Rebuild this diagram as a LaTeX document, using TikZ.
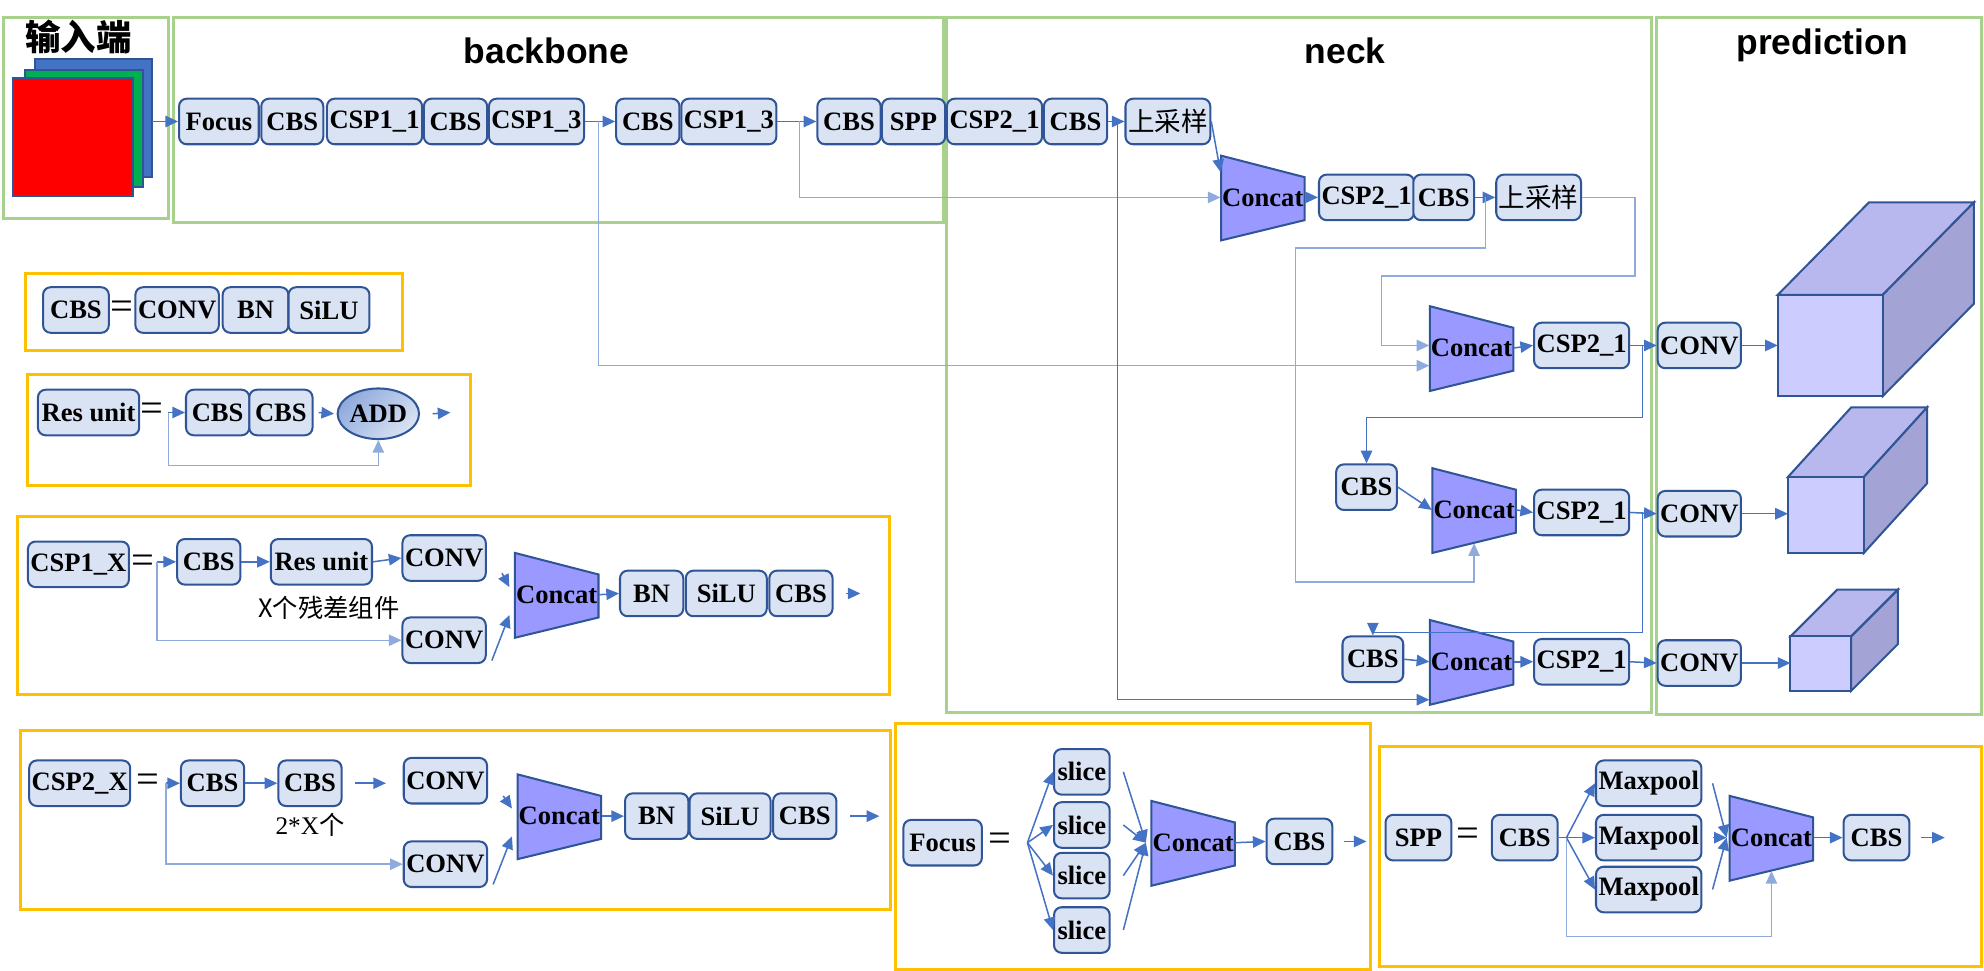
\documentclass[tikz,border=0pt]{standalone}
\usepackage{fontspec}
\setmainfont{Liberation Serif}
\setsansfont{Liberation Sans}
\newfontfamily\cjk{Noto Sans CJK SC}
\usepackage{xcolor}
\usepackage{tikz}
\usetikzlibrary{arrows.meta,shapes.geometric}

\definecolor{bdr}{HTML}{2F5597}
\definecolor{blkfill}{HTML}{DAE3F3}
\definecolor{arrc}{HTML}{4472C4}
\definecolor{skipc}{HTML}{8FAADC}
\definecolor{catfill}{HTML}{9999FF}
\definecolor{grn}{HTML}{A9D18E}
\definecolor{org}{HTML}{FFC000}
\definecolor{cubef}{HTML}{CCCCFF}
\definecolor{cubes}{HTML}{A3A3D6}
\definecolor{cubet}{HTML}{B8B8EE}

% trapezoid concat block: name, x, y
\newcommand\catblk[3]{%
  \draw[cat] (#2-33,#3-33) -- (#2+33,#3-16) -- (#2+33,#3+18) -- (#2-33,#3+34) -- cycle;
  \node[catlbl] (#1) at (#2,#3) {Concat};}
% cuboid: x1, y1, x2, y2, dx, dy
\newcommand\cubeblk[6]{%
  \draw[cube, fill=cubet] (#1,#2) -- (#1+#5,#2-#6) -- (#3+#5,#2-#6) -- (#3,#2) -- cycle;
  \draw[cube, fill=cubes] (#3,#2) -- (#3+#5,#2-#6) -- (#3+#5,#4-#6) -- (#3,#4) -- cycle;
  \draw[cube, fill=cubef] (#1,#2) rectangle (#3,#4);}

\begin{document}
\begin{tikzpicture}[x=0.5pt,y=-0.5pt]
\tikzstyle{blk}=[draw=bdr, fill=blkfill, rounded corners=3pt, line width=0.8pt,
	minimum height=18pt, inner sep=1pt, font=\bfseries\fontsize{10.5}{12}\selectfont]
\tikzstyle{w}=[minimum width={#1*0.5pt}]
\tikzstyle{cat}=[draw=bdr, fill=catfill, line width=0.8pt]
\tikzstyle{catlbl}=[minimum width=33pt, minimum height=26pt, inner sep=0pt,
	font=\bfseries\fontsize{10.5}{12}\selectfont]
\tikzstyle{cube}=[draw=bdr, line width=0.8pt]
\tikzstyle{ln}=[draw=arrc, line width=0.6pt]
\tikzstyle{arr}=[ln, -{Triangle[length=5pt,width=4.5pt]}]
\tikzstyle{skip}=[draw=skipc]
\tikzstyle{frameg}=[draw=grn, line width=1.2pt]
\tikzstyle{frameo}=[draw=org, line width=1.2pt]
\tikzstyle{title}=[font=\sffamily\bfseries\fontsize{14}{16}\selectfont]
\tikzstyle{eq}=[font=\fontsize{16}{16}\selectfont, inner sep=0pt]

\useasboundingbox (0,0) rectangle (1568,767);

% frames
\draw[frameg] (3,14) rectangle (133,173);
\draw[frameg] (137,14) rectangle (746,176);
\draw[frameg] (748,14) rectangle (1305,563);
\draw[frameg] (1309,14) rectangle (1566,565);
\draw[frameo] (20,216) rectangle (318,277);
\draw[frameo] (22,296) rectangle (372,384);
\draw[frameo] (14,408) rectangle (703,549);
\draw[frameo] (16,577) rectangle (704,719);
\draw[frameo] (708,572) rectangle (1083,766);
\draw[frameo] (1090,590) rectangle (1566,764);

\node[title, font=\cjk\bfseries\fontsize{14}{16}\selectfont] (tin) at (62,29) {输入端};
\node[title] (tbb) at (432,40) {backbone};
\node[title] (tnk) at (1063,40) {neck};
\node[title] (tpr) at (1440,36) {prediction};

% input
\draw[cube, fill=arrc] (28,47) rectangle (120,140);
\draw[cube, fill={rgb,255:red,0;green,176;blue,80}] (20,55) rectangle (113,148);
\draw[cube, fill=red] (10,62) rectangle (105,155);
\coordinate (img) at (120,96);

% backbone
\node[blk, w=63] (f0) at (173,96) {Focus};
\node[blk, w=49] (c1) at (231,96) {CBS};
\node[blk, w=74] (p1) at (296,96) {CSP1\_1};
\node[blk, w=50] (c2) at (360,96) {CBS};
\node[blk, w=74] (p2) at (424,96) {CSP1\_3};
\node[blk, w=50] (c3) at (512,96) {CBS};
\node[blk, w=75] (p3) at (576,96) {CSP1\_3};
\node[blk, w=50] (c4) at (671,96) {CBS};
\node[blk, w=50] (spp) at (722,96) {SPP};

% neck
\node[blk, w=74] (q1) at (786,96) {CSP2\_1};
\node[blk, w=50] (c5) at (850,96) {CBS};
\node[blk, w=67, font=\cjk\fontsize{10.5}{12}\selectfont] (up1) at (923,96) {上采样};
\catblk{k1}{998}{156}
\node[blk, w=71] (q2) at (1080,156) {CSP2\_1};
\node[blk, w=48] (c6) at (1141,156) {CBS};
\node[blk, w=67, font=\cjk\fontsize{10.5}{12}\selectfont] (up2) at (1216,156) {上采样};
\catblk{k2}{1163}{275}
\node[blk, w=73] (r1) at (1250,273) {CSP2\_1};
\node[blk, w=48] (s1) at (1080,385) {CBS};
\catblk{k3}{1165}{403}
\node[blk, w=73] (r2) at (1250,405) {CSP2\_1};
\node[blk, w=48] (s2) at (1085,521) {CBS};
\catblk{k4}{1163}{523}
\node[blk, w=73] (r3) at (1250,523) {CSP2\_1};

% prediction
\node[blk, w=62] (v1) at (1343,273) {CONV};
\node[blk, w=62] (v2) at (1343,406) {CONV};
\node[blk, w=62] (v3) at (1343,524) {CONV};
\cubeblk{1405}{233}{1488}{313}{72}{73}
\cubeblk{1413}{377}{1473}{437}{50}{55}
\cubeblk{1415}{503}{1463}{546}{37}{37}
\coordinate (cb1) at (1405,273);
\coordinate (cb2) at (1413,406);
\coordinate (cb3) at (1415,524);

% main connectors
\coordinate (b1) at (473,96);
\coordinate (b2) at (632,96);
\coordinate (b3) at (883,96);
\coordinate (b4) at (1174,156);
\coordinate (b5) at (1298,273);
\coordinate (b6) at (1298,405);
\draw[arr] (img) -- (f0.west);
\draw[arr] (p2.east) -- (c3.west);
\draw[arr] (p3.east) -- (c4.west);
\draw[arr] (c5.east) -- (up1.west);
\draw[arr, skip] (b1) |- ([yshift=-7pt]k2.west);
\draw[arr, skip] (b2) |- (k1.west);
\draw[arr] (b3) |- ([yshift=-15pt]k4.west);
\draw[arr] (up1.east) -- ([yshift=10pt]k1.west);
\draw[arr] (k1.east) -- (q2.west);
\draw[arr] (c6.east) -- (up2.west);
\draw[arr, skip] (b4) -- (1174,196) -- (1024,196) -- (1024,460) -- (1165,460) -- (k3.south);
\draw[arr, skip] (up2.east) -| (1292,218) -| (1092,273) -- ([yshift=1pt]k2.west);
\draw[arr] (k2.east) -- (r1.west);
\draw[arr] (r1.east) -- (v1.west);
\draw[arr] (b5) |- (1080,330) -- (s1.north);
\draw[arr] (s1.east) -- (k3.west);
\draw[arr] (k3.east) -- (r2.west);
\draw[arr] (r2.east) -- (v2.west);
\draw[arr] (b6) |- (1085,500) -- (s2.north);
\draw[arr] (s2.east) -- (k4.west);
\draw[arr] (k4.east) -- (r3.west);
\draw[arr] (r3.east) -- (v3.west);
\draw[arr] (v1.east) -- (cb1);
\draw[arr] (v2.east) -- (cb2);
\draw[arr] (v3.east) -- (cb3);

% CBS
\node[blk, w=52] (lc) at (60,245) {CBS};
\node[eq] (e1) at (96,245) {=};
\node[blk, w=66] (lconv) at (140,245) {CONV};
\node[blk, w=52] (lbn) at (202,245) {BN};
\node[blk, w=64] (lsilu) at (260,245) {SiLU};

% Res unit
\node[blk, w=80] (ru) at (70,326) {Res unit};
\node[eq] (e2) at (120,326) {=};
\coordinate (rs) at (133,326);
\node[blk, w=50] (rc1) at (172,326) {CBS};
\node[blk, w=50] (rc2) at (222,326) {CBS};
\node[draw=bdr, line width=0.8pt, ellipse, minimum width=28pt, minimum height=20pt,
	inner sep=0pt, left color=skipc, right color=blkfill, shading angle=45,
	font=\bfseries\fontsize{10.5}{12}\selectfont] (add) at (299,327) {ADD};
\coordinate (ro) at (356,326);
\draw[arr] (rs) -- (rc1.west);
\draw[arr] ([xshift=2pt]rc2.east) -- ([xshift=-1pt]add.west);
\draw[arr] ([xshift=5pt]add.east) -- (ro);
\draw[arr, skip] (rs) |- (299,368) -- (add.south);

% CSP1_X
\node[blk, w=74] (x1) at (62,446) {CSP1\_X};
\node[eq] (e3) at (113,446) {=};
\coordinate (xs) at (124,444);
\node[blk, w=50] (xc) at (165,444) {CBS};
\node[blk, w=80] (xr) at (254,444) {Res unit};
\node[blk, w=64] (xv1) at (351,441) {CONV};
\node[font=\cjk\fontsize{10}{12}\selectfont] (xl) at (260,480) {X个残差组件};
\node[blk, w=64] (xv2) at (351,506) {CONV};
\catblk{xk}{440}{470}
\node[blk, w=50] (xb) at (515,469) {BN};
\node[blk, w=64] (xsi) at (574,469) {SiLU};
\node[blk, w=50] (xc2) at (633,469) {CBS};
\coordinate (xo) at (680,469);
\draw[arr] (xs) -- (xc.west);
\draw[arr] (xc.east) -- (xr.west);
\draw[arr] (xr.east) -- (xv1.west);
\draw[arr] ([shift={(6pt,-6pt)}]xv1.east) -- ([shift={(-2pt,3pt)}]xk.west);
\draw[arr] ([shift={(2pt,-8pt)}]xv2.east) -- ([shift={(-2pt,-8pt)}]xk.west);
\draw[arr] (xk.east) -- (xb.west);
\draw[arr] ([xshift=5pt]xc2.east) -- (xo);
\draw[arr, skip] (xs) |- (xv2.west);

% CSP2_X
\node[blk, w=74] (y1) at (63,619) {CSP2\_X};
\node[eq] (e4) at (117,619) {=};
\coordinate (ys) at (131,619);
\node[blk, w=50] (yc1) at (168,619) {CBS};
\node[blk, w=50] (yc2) at (245,619) {CBS};
\node[font=\fontsize{10}{12}\selectfont] (yl) at (245,652) {2*X{\cjk 个}};
\coordinate (yo1) at (305,619);
\node[blk, w=64] (yv1) at (352,617) {CONV};
\node[blk, w=64] (yv2) at (352,683) {CONV};
\catblk{yk}{442}{645}
\node[blk, w=50] (yb) at (519,645) {BN};
\node[blk, w=64] (ysi) at (577,645) {SiLU};
\node[blk, w=50] (yc3) at (636,645) {CBS};
\coordinate (yo) at (695,645);
\draw[arr] (ys) -- (yc1.west);
\draw[arr] (yc1.east) -- (yc2.west);
\draw[arr] ([xshift=5pt]yc2.east) -- (yo1);
\draw[arr] ([shift={(6pt,-6pt)}]yv1.east) -- ([shift={(-2pt,3pt)}]yk.west);
\draw[arr] ([shift={(2pt,-8pt)}]yv2.east) -- ([shift={(-2pt,-8pt)}]yk.west);
\draw[arr] (yk.east) -- (yb.west);
\draw[arr] ([xshift=5pt]yc3.east) -- (yo);
\draw[arr, skip] (ys) |- (yv2.west);

% Focus
\node[blk, w=62] (ff) at (745,666) {Focus};
\node[eq] (e5) at (790,666) {=};
\coordinate (fs) at (812,666);
\foreach \i/\y in {1/610,2/652,3/692,4/735}
	\node[blk, w=44] (sl\i) at (855,\y) {slice};
\catblk{fk}{943}{666}
\node[blk, w=52] (fc) at (1027,665) {CBS};
\coordinate (fo) at (1080,665);
\foreach \i in {1,...,4} {
	\draw[arr] (fs) -- (sl\i.west);
	\draw[arr] ([xshift=5pt]sl\i.east) -- ([xshift=-2pt]fk.west);
}
\draw[arr] (fk.east) -- (fc.west);
\draw[arr] ([xshift=4pt]fc.east) -- (fo);

% SPP
\node[blk, w=52] (sp) at (1121,662) {SPP};
\node[eq] (e6) at (1160,662) {=};
\node[blk, w=52] (sc) at (1205,662) {CBS};
\coordinate (ss) at (1238,662);
\foreach \i/\y in {1/619,2/662,3/703}
	\node[blk, w=74] (m\i) at (1303,\y) {Maxpool};
\catblk{mk}{1400}{662}
\node[blk, w=52] (sc2) at (1483,662) {CBS};
\coordinate (so) at (1537,662);
\draw[ln] (sc.east) -- (ss);
\foreach \i in {1,2,3} {
	\draw[arr] (ss) -- (m\i.west);
	\draw[arr] ([xshift=4pt]m\i.east) -- ([xshift=-1pt]mk.west);
}
\draw[arr, skip] (ss) |- (1400,740) -- (mk.south);
\draw[arr] (mk.east) -- (sc2.west);
\draw[arr] ([xshift=4pt]sc2.east) -- (so);
\end{tikzpicture}
\end{document}
